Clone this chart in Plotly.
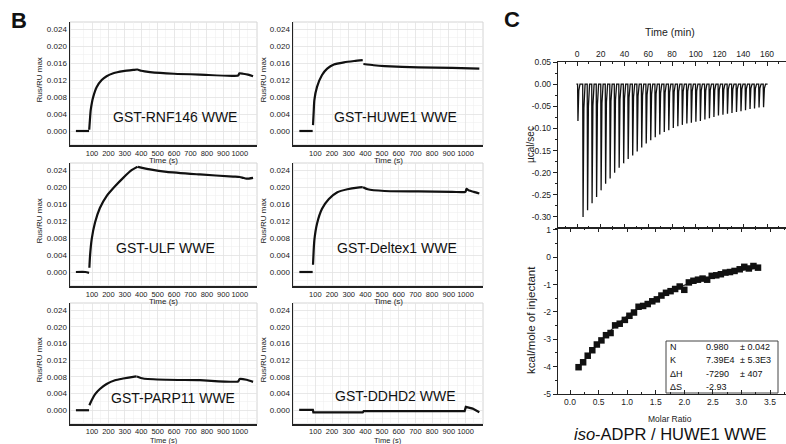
import plotly.graph_objects as go

W, H = 786, 444
FONT = "Liberation Sans, Arial, sans-serif"


def px(x):
    return x / W


def py(y):
    return 1 - y / H


# ---------------- SPR sensorgrams (Time (s), Rus/RU max) ----------------
# None separates drawn segments (baseline / association / dissociation)
rnf146_t = [2, 82, None, 83, 88, 92, 100, 108, 128, 159, 189, 230, 290, 351, 376, 400, 453, 600, 757, 990, 998, 1020, 1050, 1081]
rnf146_y = [0.0, 0.0, None, 0.0003, 0.0030, 0.0049, 0.0068, 0.0081, 0.0103, 0.0120, 0.0129, 0.0136, 0.0141, 0.0144, 0.0145, 0.0142, 0.0139, 0.0135, 0.0133, 0.0131, 0.0136, 0.0135, 0.0133, 0.0129]

huwe1_t = [4, 84, None, 86, 90, 94, 110, 140, 171, 211, 272, 333, 384, None, 388, 450, 515, 718, 921, 1083]
huwe1_y = [0.0, 0.0, None, 0.0014, 0.0045, 0.0073, 0.0104, 0.0132, 0.0147, 0.0157, 0.0162, 0.0165, 0.0167, None, 0.0158, 0.0155, 0.0153, 0.0150, 0.0149, 0.0147]

ulf_t = [2, 60, 82, None, 84, 88, 98, 118, 148, 189, 240, 290, 341, 378, None, 380, 453, 554, 757, 959, 1000, 1020, 1041, 1081]
ulf_y = [0.0, 0.0, -0.0002, None, 0.0010, 0.0038, 0.0077, 0.0116, 0.0151, 0.0179, 0.0202, 0.0222, 0.0240, 0.0248, None, 0.0248, 0.0242, 0.0236, 0.0230, 0.0225, 0.0224, 0.0222, 0.0220, 0.0222]

deltex1_t = [4, 84, None, 86, 94, 110, 140, 181, 232, 292, 353, 384, None, 386, 414, 515, 718, 921, 1000, 1006, 1022, 1050, 1083]
deltex1_y = [0.0, 0.0, None, 0.0017, 0.0075, 0.0114, 0.0149, 0.0172, 0.0188, 0.0195, 0.0199, 0.0200, None, 0.0200, 0.0195, 0.0191, 0.0190, 0.0189, 0.0189, 0.0196, 0.0192, 0.0189, 0.0185]

parp11_t = [2, 82, None, 84, 98, 118, 148, 189, 240, 290, 351, 372, None, 374, 412, 554, 757, 990, 1000, 1041, 1081]
parp11_y = [0.0, 0.0, None, 0.0012, 0.0024, 0.0038, 0.0051, 0.0063, 0.0072, 0.0076, 0.0080, 0.0081, None, 0.0081, 0.0076, 0.0073, 0.0072, 0.0069, 0.0075, 0.0073, 0.0068]

ddhd2_t = [3, 85, 88, 384, 390, 995, 1002, 1043, 1083]
ddhd2_y = [0.0001, 0.0001, -0.0005, -0.0005, -0.0002, -0.0002, 0.0008, 0.0004, -0.0005]

spr_labels = ["GST-RNF146 WWE", "GST-HUWE1 WWE", "GST-ULF WWE",
              "GST-Deltex1 WWE", "GST-PARP11 WWE", "GST-DDHD2 WWE"]
spr_xticks = [100, 200, 300, 400, 500, 600, 700, 800, 900, 1000]
spr_yticks = [0.000, 0.004, 0.008, 0.012, 0.016, 0.020, 0.024]

# ---------------- ITC raw thermogram (Time (min), µcal/sec) ----------------
inj_times = [0.5, 4.8, 8.6, 12.4, 16.2, 20.0, 23.8, 27.6, 31.4, 35.2, 39.0, 42.8, 46.6, 50.4, 54.2,
             58.0, 61.8, 65.6, 69.4, 73.2, 77.0, 80.8, 84.6, 88.4, 92.2, 96.0, 99.8, 103.6, 107.4,
             111.2, 115.0, 118.8, 122.6, 126.4, 130.2, 134.0, 137.8, 141.6, 145.4, 149.2, 153.0, 156.8]
inj_peaks = [-0.083, -0.300, -0.285, -0.269, -0.255, -0.240, -0.225, -0.213, -0.200, -0.189, -0.179,
             -0.169, -0.161, -0.152, -0.143, -0.134, -0.127, -0.120, -0.114, -0.108, -0.104, -0.099,
             -0.095, -0.092, -0.089, -0.087, -0.085, -0.083, -0.080, -0.077, -0.074, -0.071, -0.069,
             -0.067, -0.065, -0.063, -0.061, -0.059, -0.056, -0.055, -0.053, -0.052]
itc_time_ticks = [0, 20, 40, 60, 80, 100, 120, 140, 160]
itc_raw_yticks = [0.05, 0.00, -0.05, -0.10, -0.15, -0.20, -0.25, -0.30]

# ---------------- ITC integrated heats (Molar Ratio, kcal/mole) ----------------
molar_ratio = [0.15, 0.23, 0.31, 0.39, 0.47, 0.55, 0.63, 0.71, 0.79, 0.87, 0.96, 1.04, 1.12, 1.20,
               1.28, 1.36, 1.44, 1.52, 1.60, 1.68, 1.76, 1.84, 1.92, 2.00, 2.08, 2.16, 2.24, 2.32,
               2.40, 2.48, 2.56, 2.64, 2.72, 2.80, 2.88, 2.97, 3.05, 3.13, 3.21, 3.29]
heat_kcal = [-4.02, -3.84, -3.60, -3.40, -3.19, -3.04, -2.85, -2.77, -2.49, -2.43, -2.29, -2.14,
             -2.02, -1.81, -1.78, -1.71, -1.61, -1.54, -1.40, -1.30, -1.24, -1.16, -1.07, -1.19,
             -0.92, -0.86, -0.82, -0.78, -0.82, -0.68, -0.66, -0.62, -0.56, -0.54, -0.50, -0.44,
             -0.35, -0.41, -0.32, -0.38]
fit_x = [0.15, 0.4, 0.7, 1.0, 1.3, 1.6, 1.9, 2.2, 2.5, 2.8, 3.1, 3.29]
fit_y = [-4.05, -3.38, -2.70, -2.15, -1.72, -1.38, -1.10, -0.88, -0.70, -0.56, -0.45, -0.39]
molar_ticks = [0.0, 0.5, 1.0, 1.5, 2.0, 2.5, 3.0, 3.5]
kcal_ticks = [-5, -4, -3, -2, -1, 0, 1]

fit_params = [("N", "0.980", "± 0.042"), ("K", "7.39E4", "± 5.3E3"),
              ("ΔH", "-7290", "± 407"), ("ΔS", "-2.93", "")]

# ---------------- figure ----------------
fig = go.Figure()

col_px = [(70, 257), (293, 483)]
row_px = [(22, 145), (163, 286), (303, 424)]
title_y = [160, 301, 440]
spr_series = [(rnf146_t, rnf146_y), (huwe1_t, huwe1_y), (ulf_t, ulf_y),
              (deltex1_t, deltex1_y), (parp11_t, parp11_y), (ddhd2_t, ddhd2_y)]
label_pos = [(175, 117), (395, 117), (165, 248), (397, 248), (173, 398), (395, 396)]

layout = dict(
    width=W, height=H, margin=dict(l=0, r=0, t=0, b=0),
    paper_bgcolor="white", plot_bgcolor="white", showlegend=False,
    hovermode=False, dragmode=False,
    font=dict(family=FONT, color="#111"),
)
annotations = []
shapes = []

minor_x = [50 + 100 * k for k in range(11)]
minor_y = [-0.002, 0.002, 0.006, 0.010, 0.014, 0.018, 0.022]

for i, ((t, y), lab) in enumerate(zip(spr_series, spr_labels)):
    n = i + 1
    c, r = i % 2, i // 2
    x0, x1 = col_px[c]
    y0, y1 = row_px[r]
    xa = "xaxis" if n == 1 else f"xaxis{n}"
    ya = "yaxis" if n == 1 else f"yaxis{n}"
    layout[xa] = dict(
        domain=[px(x0), px(x1)], anchor=f"y{n}" if n > 1 else "y",
        range=[-34, 1105], tickmode="array", tickvals=spr_xticks,
        ticktext=[str(v) for v in spr_xticks], ticks="", showline=True, tickangle=0,
        linecolor="#222", linewidth=1.5, showgrid=True, gridcolor="#e2e2e2",
        gridwidth=0.8, zeroline=False, tickfont=dict(size=7.5, color="#222"),
        ticklabelstandoff=-1 if r == 2 else 0,
        minor=dict(tickmode="array", tickvals=minor_x, showgrid=True,
                   gridcolor="#f0f0f0", gridwidth=0.6, ticks=""),
        automargin=False, fixedrange=True,
    )
    layout[ya] = dict(
        domain=[py(y1), py(y0)], anchor=f"x{n}" if n > 1 else "x",
        range=[-0.0033, 0.0257], tickmode="array", tickvals=spr_yticks,
        ticktext=[f"{v:.3f}" for v in spr_yticks], ticks="", showline=True,
        linecolor="#222", linewidth=1.5, showgrid=True, gridcolor="#e2e2e2",
        gridwidth=0.8, zeroline=False, tickfont=dict(size=8, color="#222"),
        minor=dict(tickmode="array", tickvals=minor_y, showgrid=True,
                   gridcolor="#f0f0f0", gridwidth=0.6, ticks=""),
        automargin=False, fixedrange=True,
    )
    xr = f"x{n}" if n > 1 else "x"
    yr = f"y{n}" if n > 1 else "y"
    fig.add_trace(go.Scatter(
        x=t, y=y, xaxis=xr, yaxis=yr, mode="lines",
        line=dict(color="#111", width=2.2,
                  shape="linear" if n == 6 else "spline", smoothing=0.6),
        connectgaps=False, hoverinfo="skip"))
    shapes.append(dict(type="rect", xref=f"{xr} domain", yref=f"{yr} domain",
                       x0=0, x1=1, y0=0, y1=1,
                       line=dict(color="#d4d4d4", width=1), layer="below"))
    lx, ly = label_pos[i]
    annotations.append(dict(text=lab, x=px(lx), y=py(ly), xref="paper", yref="paper",
                            showarrow=False, font=dict(size=14, color="#111"),
                            xanchor="center", yanchor="middle"))
    # axis titles
    annotations.append(dict(text="Time (s)", x=px((x0 + x1) / 2), y=py(title_y[r]),
                            xref="paper", yref="paper", showarrow=False,
                            font=dict(size=7.5 if r == 2 else 8, color="#222"),
                            yanchor="middle"))
    annotations.append(dict(text="Rus/RU max", x=px(39 if c == 0 else 263),
                            y=py((y0 + y1) / 2 - 3), xref="paper", yref="paper",
                            showarrow=False, textangle=-90,
                            font=dict(size=8, color="#222"),
                            xanchor="center", yanchor="middle"))

# ITC raw thermogram trace built from injection times and peak heights
raw_x, raw_y = [-0.5], [0.0]
for t, p in zip(inj_times, inj_peaks):
    raw_x += [t, t + 0.3, t + 1.0, t + 2.0]
    raw_y += [0.0, p, p * 0.18, 0.0]
raw_x.append(160.5)
raw_y.append(0.0)

cx0, cx1 = 558, 786
layout["xaxis7"] = dict(
    domain=[px(cx0), px(cx1)], anchor="y7", side="top", range=[-16, 176],
    tickmode="array", tickvals=itc_time_ticks, ticktext=[str(v) for v in itc_time_ticks],
    ticks="inside", ticklen=4, tickwidth=1, tickcolor="#222", mirror="allticks",
    showline=True, linecolor="#222", linewidth=1.2, showgrid=False, zeroline=False,
    tickfont=dict(size=8.5, color="#222"), tickangle=0, fixedrange=True,
    minor=dict(tickmode="array", tickvals=[-10, 10, 30, 50, 70, 90, 110, 130, 150, 170],
               ticks="inside", ticklen=2, tickcolor="#222"),
    automargin=False,
)
layout["yaxis7"] = dict(
    domain=[py(228), py(62)], anchor="x7", range=[-0.325, 0.05],
    tickmode="array", tickvals=itc_raw_yticks, ticktext=[f"{v:.2f}" for v in itc_raw_yticks],
    ticks="outside", ticklen=4, tickwidth=1, tickcolor="#222", mirror="allticks",
    showline=True, linecolor="#222", linewidth=1.2, showgrid=False, zeroline=False,
    tickfont=dict(size=8.5, color="#222"), fixedrange=True,
    minor=dict(tickmode="array", tickvals=[0.025, -0.025, -0.075, -0.125, -0.175, -0.225, -0.275, -0.325],
               ticks="outside", ticklen=2, tickcolor="#222"),
    automargin=False,
)
layout["xaxis8"] = dict(
    domain=[px(cx0), px(cx1)], anchor="y8", range=[-0.21, 3.78],
    tickmode="array", tickvals=molar_ticks, ticktext=[f"{v:.1f}" for v in molar_ticks],
    ticks="inside", ticklen=4, tickwidth=1, tickcolor="#222", mirror="allticks",
    showline=True, linecolor="#222", linewidth=1.2, showgrid=False, zeroline=False,
    tickfont=dict(size=8.5, color="#222"), tickangle=0, fixedrange=True,
    minor=dict(tickmode="array", tickvals=[-0.25, 0.25, 0.75, 1.25, 1.75, 2.25, 2.75, 3.25, 3.75],
               ticks="inside", ticklen=2, tickcolor="#222"),
    automargin=False,
)
layout["yaxis8"] = dict(
    domain=[py(394), py(228)], anchor="x8", range=[-5, 1.07],
    tickmode="array", tickvals=kcal_ticks, ticktext=[str(v) for v in kcal_ticks],
    ticks="outside", ticklen=4, tickwidth=1, tickcolor="#222", mirror="allticks",
    showline=True, linecolor="#222", linewidth=1.2, showgrid=False, zeroline=False,
    tickfont=dict(size=8.5, color="#222"), fixedrange=True,
    minor=dict(tickmode="array", tickvals=[-4.5, -3.5, -2.5, -1.5, -0.5, 0.5],
               ticks="outside", ticklen=2, tickcolor="#222"),
    automargin=False,
)

fig.add_trace(go.Scatter(x=raw_x, y=raw_y, xaxis="x7", yaxis="y7", mode="lines",
                         line=dict(color="#111", width=1.3), hoverinfo="skip"))
fig.add_trace(go.Scatter(x=fit_x, y=fit_y, xaxis="x8", yaxis="y8", mode="lines",
                         line=dict(color="#333", width=1.2, shape="spline"), hoverinfo="skip"))
fig.add_trace(go.Scatter(x=molar_ratio, y=heat_kcal, xaxis="x8", yaxis="y8", mode="markers",
                         marker=dict(symbol="square", size=6.5, color="#111"), hoverinfo="skip"))

# ITC titles
annotations += [
    dict(text="Time (min)", x=px(670), y=py(32), font=dict(size=10.5, color="#222")),
    dict(text="µcal/sec", x=px(530), y=py(145), textangle=-90, font=dict(size=10, color="#222")),
    dict(text="kcal/mole of injectant", x=px(531), y=py(320), textangle=-90,
         font=dict(size=11.5, color="#222")),
    dict(text="Molar Ratio", x=px(670), y=py(419), font=dict(size=8.5, color="#222")),
    dict(text="<i>iso</i>-ADPR / HUWE1 WWE", x=px(670), y=py(434), font=dict(size=16.5, color="#111")),
    dict(text="<b>B</b>", x=px(19), y=py(21), font=dict(size=22, color="#111")),
    dict(text="<b>C</b>", x=px(512), y=py(19), font=dict(size=22, color="#111")),
]
for a in annotations:
    a.setdefault("xref", "paper")
    a.setdefault("yref", "paper")
    a.setdefault("showarrow", False)
    a.setdefault("xanchor", "center")
    a.setdefault("yanchor", "middle")

# fit parameter table
shapes.append(dict(type="rect", xref="paper", yref="paper", x0=px(666), x1=px(778),
                   y0=py(393), y1=py(341), line=dict(color="#444", width=1),
                   fillcolor="white", layer="below"))
row_y = [347, 360, 374, 387]
for (nm, val, err), ry in zip(fit_params, row_y):
    annotations.append(dict(text=nm, x=px(668), y=py(ry), xref="paper", yref="paper",
                            showarrow=False, xanchor="left", yanchor="middle",
                            font=dict(size=9, color="#111")))
    annotations.append(dict(text=val, x=px(704), y=py(ry), xref="paper", yref="paper",
                            showarrow=False, xanchor="left", yanchor="middle",
                            font=dict(size=9, color="#111")))
    if err:
        annotations.append(dict(text=err, x=px(738), y=py(ry), xref="paper", yref="paper",
                                showarrow=False, xanchor="left", yanchor="middle",
                                font=dict(size=9, color="#111")))

layout["annotations"] = annotations
layout["shapes"] = shapes
fig.update_layout(**layout)
fig.write_html(
    "out.html",
    config={"displayModeBar": False, "staticPlot": True},
    post_script="document.body.style.margin='0';document.body.style.padding='0';"
                "document.documentElement.style.overflow='hidden';",
)
